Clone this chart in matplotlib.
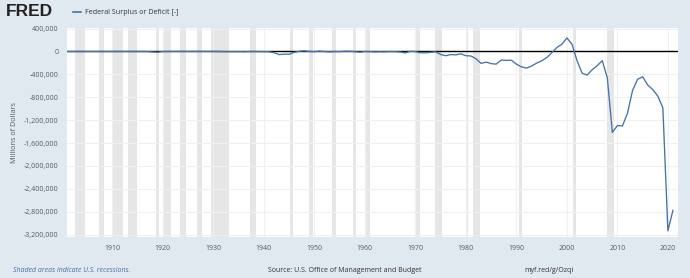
import matplotlib
matplotlib.use("Agg")
import matplotlib.pyplot as plt
import matplotlib.ticker as ticker

# Federal Surplus or Deficit [-], millions of dollars (fiscal years)
years = list(range(1901, 2022))
values = [
    63, 77, 45, -43, -23, 25, 87, -57, -89, -18,
    11, 3, 0, 0, -63, 48, -853, -9032, -13363, 291,
    509, 736, 713, 963, 717, 865, 1155, 939, 734, 738,
    -462, -2735, -2602, -3586, -2803, -4304, -2193, -89, -2846, -2920,
    -4941, -20503, -54554, -47557, -47553, -15936, 4018, 11796, 580, -3119,
    6102, -1519, -6493, -1154, -2993, 3947, 3412, -2769, -12849, 301,
    -3335, -7146, -4756, -5915, -1411, -3698, -8643, -25161, 3242, -2842,
    -23033, -23373, -14908, -6135, -53242, -73732, -53659, -59185, -40726, -73830,
    -78968, -127977, -207802, -185367, -212308, -221227, -149730, -155178, -152639, -221036,
    -269238, -290321, -255051, -203186, -163952, -107431, -21884, 69270, 125610, 236241,
    128236, -157758, -377585, -412727, -318346, -248181, -160701, -458553, -1412688, -1294373,
    -1299599, -1076573, -679775, -484602, -441960, -584651, -665446, -779137, -983594, -3131917,
    -2775306,
]

# NBER recessions (peak, trough) as fractional years
recessions = [
    (1902.67, 1904.58), (1907.33, 1908.42), (1910.0, 1912.0), (1913.0, 1914.92),
    (1918.58, 1919.17), (1920.0, 1921.5), (1923.33, 1924.5), (1926.75, 1927.83),
    (1929.58, 1933.17), (1937.33, 1938.42), (1945.08, 1945.75), (1948.83, 1949.75),
    (1953.5, 1954.33), (1957.58, 1958.25), (1960.25, 1961.08), (1969.92, 1970.83),
    (1973.83, 1975.17), (1980.0, 1980.5), (1981.5, 1982.83), (1990.5, 1991.17),
    (2001.17, 2001.83), (2007.92, 2009.42), (2020.08, 2020.25),
]

xticks = list(range(1910, 2021, 10))
yticks = list(range(-3200000, 400001, 400000))

bg = "#e1e9f0"
line_col = "#4572a7"
txt_col = "#595959"
font = "Open Sans"

fig = plt.figure(figsize=(6.9, 2.78), dpi=100, facecolor=bg)
ax = fig.add_axes([67 / 690, 1 - 237 / 278, (678 - 67) / 690, (237 - 28) / 278])
ax.set_facecolor("white")

for a, b in recessions:
    ax.axvspan(a, b, color="#e6e6e6", lw=0, zorder=0)

ax.axhline(0, color="black", lw=1.0, zorder=2)
ax.plot(years, values, color=line_col, lw=0.95, zorder=3)

ax.set_xlim(1901, 2022)
ax.set_ylim(-3240000, 410000)
ax.set_xticks(xticks)
ax.set_yticks(yticks)
ax.yaxis.set_major_formatter(ticker.FuncFormatter(lambda v, p: "{:,.0f}".format(v)))
ax.grid(True, color="#f0f0f0", lw=0.8, zorder=1)
ax.set_axisbelow(True)
for s in ax.spines.values():
    s.set_visible(False)
ax.tick_params(length=0, labelsize=5, labelcolor=txt_col, pad=6)
for lab in ax.get_xticklabels() + ax.get_yticklabels():
    lab.set_fontfamily(font)

ax.set_ylabel("Millions of Dollars", fontsize=5.2, color=txt_col, family=font, labelpad=4)

# header
fig.text(6 / 690, 1 - 12 / 278, "FRED", fontsize=12.5, fontweight="bold",
         family="Liberation Sans", color="#222222", va="center", ha="left")
fig.add_artist(plt.Line2D([73 / 690, 81 / 690], [1 - 12 / 278, 1 - 12 / 278],
                          color=line_col, lw=1.2))
fig.text(85 / 690, 1 - 12 / 278, "Federal Surplus or Deficit [-]", fontsize=5.1,
         family=font, color="#333333", va="center", ha="left")

# footer
fig.text(13 / 690, 1 - 270 / 278, "Shaded areas indicate U.S. recessions.", fontsize=5.0,
         family=font, style="italic", color=line_col, va="center", ha="left")
fig.text(268 / 690, 1 - 270 / 278, "Source: U.S. Office of Management and Budget",
         fontsize=5.0, family=font, color="#333333", va="center", ha="left")
fig.text(524 / 690, 1 - 270 / 278, "myf.red/g/Ozqi", fontsize=5.0,
         family=font, color="#333333", va="center", ha="left")

fig.savefig("out.png", dpi=100, facecolor=bg)
